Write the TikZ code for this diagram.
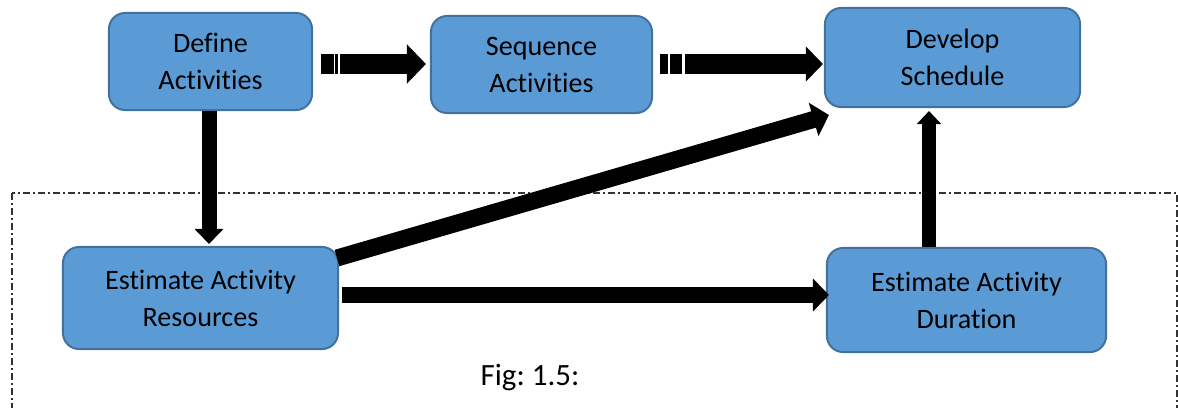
\documentclass[tikz,border=0pt]{standalone}
\usepackage{fontspec}
\setmainfont[Ligatures={NoCommon}]{Carlito}
\usetikzlibrary{arrows.meta}
\definecolor{boxblue}{HTML}{5B9BD5}
\definecolor{boxedge}{HTML}{41719C}
\frenchspacing
\tikzset{
	procbox/.style={draw=boxedge, fill=boxblue, line width=0.05cm, rounded corners=0.4cm, align=center, inner sep=0pt, font=\fontsize{20}{26.3}\selectfont},
	fatarrow/.style n args={3}{line width=#1, line cap=butt, -{Triangle[width=#2, length=#3]}},
	borderline/.style={line width=0.8pt, color=black!80, dash pattern=on 0.175cm off 0.075cm on 0.05cm off 0.075cm},
}

\begin{document}
\begin{tikzpicture}[x=0.025cm, y=-0.025cm]
		%%%%% START %%%%%
		\useasboundingbox (0, 0) rectangle (1178, 408);
		
		\draw[borderline] (12, 193) rectangle (1177, 440);
		
		\node[procbox, minimum width=5.075cm, minimum height=2.425cm] (def) at (210.5, 61.5) {Define\\Activities};
		\node[procbox, minimum width=5.525cm, minimum height=2.425cm] (seq) at (541.5, 64.5) {Sequence\\Activities};
		\node[procbox, minimum width=6.375cm, minimum height=2.475cm] (dev) at (952.5, 57.5) {Develop\\Schedule};
		
		\node[procbox, minimum width=6.875cm, minimum height=2.55cm] (res) at (200.5, 298) {Estimate Activity\\Resources};
		\node[procbox, minimum width=6.975cm, minimum height=2.6cm] (dur) at (966.5, 300) {Estimate Activity\\Duration};
		
		\node[font=\fontsize{22}{26}\selectfont] (fig) at (530, 378) {Fig: 1.5:};
		
		\draw[fatarrow={0.5cm}{0.95cm}{0.475cm}, dash pattern=on 0.325cm off 0.025cm on 0.075cm off 0.04cm on 6cm, shorten <=0.2cm, shorten >=0.1cm] (def.east |- 0,64) -- (seq.west |- 0,64);
		\draw[fatarrow={0.475cm}{0.85cm}{0.425cm}, dash pattern=on 0.19cm off 0.06cm on 0.3cm off 0.075cm on 6cm, shorten <=0.175cm, shorten >=0.025cm] (seq.east |- 0,64) -- (dev.west |- 0,64);
		
		\draw[fatarrow={0.375cm}{0.7cm}{0.375cm}, shorten >=0.05cm] (def.south -| 209,0) -- (res.north -| 209,0);
		\draw[fatarrow={0.425cm}{0.85cm}{0.4cm}] ([shift={(-2,12)}]res.north east) -- ([shift={(5,7)}]dev.south west);
		\draw[fatarrow={0.4cm}{0.8cm}{0.4cm}, shorten <=0.075cm, shorten >=-0.075cm] (res.east |- 0,295) -- (dur.west |- 0,295);
		\draw[fatarrow={0.33cm}{0.6cm}{0.33cm}, shorten >=0.075cm] (dur.north -| 929,0) -- (dev.south -| 929,0);
		
		%%%%% END %%%%%
\end{tikzpicture}
\end{document}
